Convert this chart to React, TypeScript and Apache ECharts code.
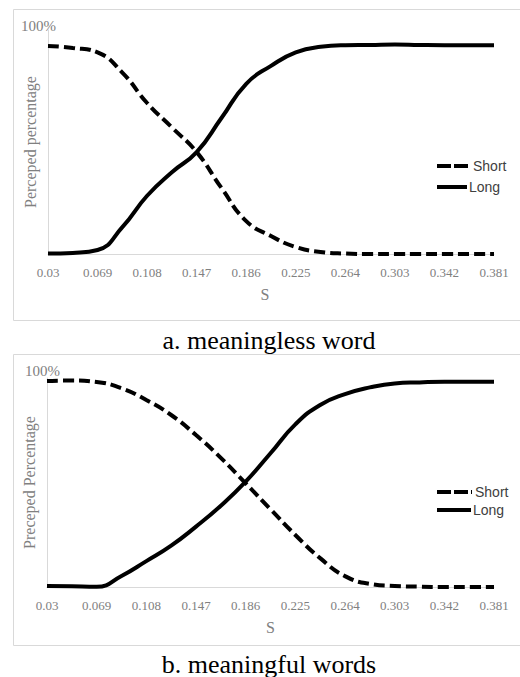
import React, { useEffect, useRef } from "react";
import * as echarts from "echarts";

// tick labels of the S axis
const tickLabels = ["0.03", "0.069", "0.108", "0.147", "0.186", "0.225", "0.264", "0.303", "0.342", "0.381"];
const sSamples = [0.03, 0.0495, 0.069, 0.0885, 0.108, 0.1275, 0.147, 0.1665, 0.186, 0.2055, 0.225, 0.2445, 0.264, 0.2835, 0.303, 0.3225, 0.342, 0.3615, 0.381];
// a. meaningless word (percent)
const shortA = [92.9, 92.0, 90.0, 81.0, 67.4, 56.5, 45.5, 29.5, 14.7, 8.0, 3.1, 0.9, 0.2, 0, 0, 0, 0, 0, 0];
const longA = [0.2, 0.5, 1.8, 12.0, 26.0, 36.5, 45.5, 60.7, 76.0, 84.0, 90.0, 92.5, 93.2, 93.3, 93.5, 93.3, 93.2, 93.2, 93.2];
// b. meaningful words (percent)
const shortB = [98.6, 98.8, 98.1, 95.1, 89.5, 82.3, 72.7, 61.8, 49.6, 37.2, 24.9, 13.8, 5.2, 1.5, 0.5, 0.2, 0, 0, 0];
const longB = [0.5, 0.3, 0.1, 5.3, 12.4, 19.8, 28.9, 38.9, 50.4, 64.0, 77.8, 87.1, 92.3, 95.5, 97.4, 97.9, 98.2, 98.2, 98.2];

const yTitles = ["Perceped percentage", "Preceped Percentage"];
const captions = ["a. meaningless word", "b. meaningful words"];
const seriesNames = ["Short", "Long"];

const GRAY = "#808080";
const SERIF = "'Liberation Serif', 'Times New Roman', serif";
const SANS = "'Liberation Sans', Arial, sans-serif";

const tickValues = tickLabels.map(Number);
const pairs = (vals: number[]) => vals.map((v, i) => [sSamples[i], v]);

export default function App() {
  const ref = useRef<HTMLDivElement>(null);
  useEffect(() => {
    if (!ref.current) return;
    const chart = echarts.init(ref.current, undefined, { renderer: "svg" });
    const mkX = (i: number) => ({
      type: "value",
      gridIndex: i,
      min: tickValues[0],
      max: tickValues[tickValues.length - 1],
      axisLine: { show: true, lineStyle: { color: "#d9d9d9", width: 1 } },
      axisTick: { show: false },
      splitLine: { show: false },
      axisLabel: {
        color: GRAY,
        fontFamily: SERIF,
        fontSize: 13,
        margin: 12,
        customValues: tickValues,
        formatter: (v: number) => {
          let best = 0;
          tickValues.forEach((t, k) => {
            if (Math.abs(t - v) < Math.abs(tickValues[best] - v)) best = k;
          });
          return tickLabels[best];
        },
      },
      name: "S",
      nameLocation: "middle",
      nameGap: 32,
      nameTextStyle: { color: GRAY, fontFamily: SERIF, fontSize: 16, padding: i === 0 ? [0, 12, 0, 0] : 0 },
    });
    const mkY = (i: number) => ({
      type: "value",
      gridIndex: i,
      min: 0,
      max: 100,
      axisLine: { show: true, lineStyle: { color: "#d9d9d9", width: 1 } },
      axisTick: { show: false },
      axisLabel: { show: false },
      splitLine: { show: false },
      name: yTitles[i],
      nameLocation: "middle",
      nameRotate: 90,
      nameGap: 10,
      nameTextStyle: { color: GRAY, fontFamily: SERIF, fontSize: 16 },
    });
    const mkSeries = (name: string, data: number[], i: number, dashed: boolean) => ({
      type: "line",
      name,
      xAxisIndex: i,
      yAxisIndex: i,
      data: pairs(data),
      smooth: 0.5,
      symbol: "none",
      showSymbol: false,
      lineStyle: { color: "#000", width: 4, type: dashed ? [11, 5] : "solid" },
      itemStyle: { color: "#000" },
    });
    const legendItems = (x0: number, x1: number, yS: number, yL: number, tS: number, tL: number) => [
      { type: "line", shape: { x1: x0, y1: yS, x2: x1, y2: yS }, style: { stroke: "#000", lineWidth: 4, lineDash: [14, 3] }, silent: true },
      { type: "text", x: tS, y: yS, style: { text: seriesNames[0], fill: "#404040", font: `14px ${SANS}`, verticalAlign: "middle" } },
      { type: "line", shape: { x1: x0, y1: yL, x2: x1 - 1, y2: yL }, style: { stroke: "#000", lineWidth: 4 }, silent: true },
      { type: "text", x: tL, y: yL, style: { text: seriesNames[1], fill: "#404040", font: `14px ${SANS}`, verticalAlign: "middle" } },
    ];
    const option = {
      animation: false,
      backgroundColor: "#fff",
      grid: [
        { left: 48, right: 26, top: 30, height: 224 },
        { left: 47, right: 26, top: 378, height: 209 },
      ],
      xAxis: [mkX(0), mkX(1)],
      yAxis: [mkY(0), mkY(1)],
      series: [
        mkSeries(seriesNames[0], shortA, 0, true),
        mkSeries(seriesNames[1], longA, 0, false),
        mkSeries(seriesNames[0] + " b", shortB, 1, true),
        mkSeries(seriesNames[1] + " b", longB, 1, false),
      ],
      graphic: [
        { type: "rect", shape: { x: 13.5, y: 9.5, width: 520, height: 311 }, style: { fill: "none", stroke: "#d9d9d9", lineWidth: 1 }, silent: true },
        { type: "rect", shape: { x: 13.5, y: 354.5, width: 520, height: 291 }, style: { fill: "none", stroke: "#d9d9d9", lineWidth: 1 }, silent: true },
        { type: "text", x: 21, y: 26, style: { text: "100%", fill: GRAY, font: `15px ${SERIF}`, verticalAlign: "middle" } },
        { type: "text", x: 25, y: 371, style: { text: "100%", fill: GRAY, font: `15px ${SERIF}`, verticalAlign: "middle" } },
        ...legendItems(437, 468, 166, 187, 473, 469),
        ...legendItems(437, 472, 492, 510, 475, 473),
        { type: "text", x: 269, y: 340, style: { text: captions[0], fill: "#000", font: `26px ${SERIF}`, align: "center", verticalAlign: "middle" } },
        { type: "text", x: 269, y: 664, style: { text: captions[1], fill: "#000", font: `26px ${SERIF}`, align: "center", verticalAlign: "middle" } },
      ],
    };
    chart.setOption(option as any);
    return () => chart.dispose();
  }, []);
  return (
    <div
      ref={ref}
      style={{ position: "absolute", left: 0, top: 0, width: 520, height: 677, background: "#fff" }}
    />
  );
}
